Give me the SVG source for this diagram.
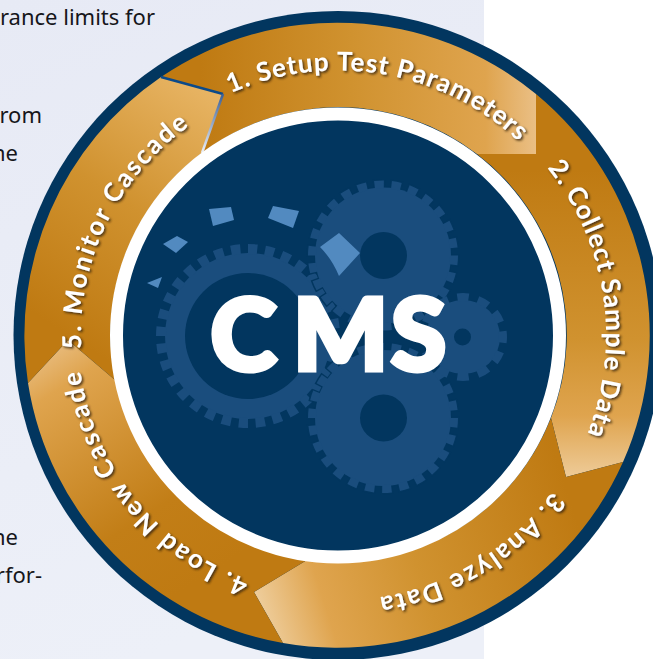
<svg xmlns="http://www.w3.org/2000/svg" width="653" height="659" viewBox="0 0 653 659">
<style>
.body{font-family:"Noto Sans","Open Sans",sans-serif;font-size:22px;fill:#16161a;text-anchor:end}
.lbl{font-family:"Lato","Open Sans",sans-serif;font-weight:700;font-size:26px;fill:#fff;filter:url(#sh)}
.cms{font-family:"Lato","Inter",sans-serif;font-weight:900;font-size:100px;fill:#fff;stroke:#fff;stroke-width:5;stroke-linejoin:miter}
.g{fill:#1a4d7d;stroke:none}
.t{fill:none;stroke:#1a4d7d}
.u{fill:none;stroke:#02365f}
.h{fill:#02365f}
.f{fill:#528ac0}
</style>
<defs>
<filter id="sh" x="-10%" y="-10%" width="120%" height="120%"><feDropShadow dx="1.6" dy="1.6" stdDeviation="1" flood-color="#2e1e08" flood-opacity=".85"/></filter>
<linearGradient id="bg" x1="0" y1="0" x2="0.3" y2="1"><stop offset="0" stop-color="#e7eaf5"/><stop offset="1" stop-color="#edf0f8"/></linearGradient>
<linearGradient id="s1" gradientUnits="userSpaceOnUse" x1="200" y1="0" x2="536" y2="0"><stop offset="0" stop-color="#bf7a12"/><stop offset=".45" stop-color="#d0922f"/><stop offset=".85" stop-color="#dfa44e"/><stop offset="1" stop-color="#eabf85"/></linearGradient>
<linearGradient id="s2" gradientUnits="userSpaceOnUse" x1="0" y1="170" x2="0" y2="477"><stop offset="0" stop-color="#bf7a12"/><stop offset=".55" stop-color="#d0922f"/><stop offset=".8" stop-color="#dfa44e"/><stop offset="1" stop-color="#eecb98"/></linearGradient>
<linearGradient id="s3" gradientUnits="userSpaceOnUse" x1="570" y1="500" x2="254" y2="600"><stop offset="0" stop-color="#bf7a12"/><stop offset=".5" stop-color="#d0922f"/><stop offset=".8" stop-color="#dfa44e"/><stop offset="1" stop-color="#efcf9f"/></linearGradient>
<linearGradient id="s4" gradientUnits="userSpaceOnUse" x1="200" y1="580" x2="50" y2="345"><stop offset="0" stop-color="#bf7a12"/><stop offset=".3" stop-color="#c27e17"/><stop offset=".85" stop-color="#dfa44e"/><stop offset="1" stop-color="#e9bd80"/></linearGradient>
<linearGradient id="s5" gradientUnits="userSpaceOnUse" x1="60" y1="330" x2="215" y2="90"><stop offset="0" stop-color="#bf7a12"/><stop offset=".5" stop-color="#d0922f"/><stop offset="1" stop-color="#e8b565"/></linearGradient>
<linearGradient id="edge" gradientUnits="userSpaceOnUse" x1="223" y1="94" x2="202" y2="153"><stop offset="0" stop-color="#3a5f95"/><stop offset="1" stop-color="#eef1f8"/></linearGradient>
<path id="p1" d="M226,95.3A265,265 0 0 1 567.5,203"/>
<path id="p2" d="M543.3,163.2A268,268 0 0 1 557.5,489.2"/>
<path id="p3" d="M552.4,491.3A265,265 0 0 1 314.9,599.5"/>
<path id="p4" d="M249.1,579.8A260,260 0 0 1 79,312.8"/>
<path id="p5" d="M81.4,348.9A257,257 0 0 1 250.1,94"/>
</defs>
<rect id="page" x="0" y="0" width="484" height="659" fill="url(#bg)"/>
<g id="body-text">
<text class="body" x="155" y="25">rance limits for</text>
<text class="body" x="42" y="123">rom</text>
<text class="body" x="18" y="161">ne</text>
<text class="body" x="18" y="545">ne</text>
<text class="body" x="42" y="583">rfor-</text>
</g>
<circle id="rim" cx="338" cy="335.5" r="324.5" fill="#02365f"/>
<g id="step2"><path fill="url(#s2)" d="M536,94A313,313 0 0 1 623,462L566,477L551,418A227,227 0 0 0 477,154L536,154Z"/><text class="lbl" letter-spacing="1"><textPath href="#p2" startOffset="6">2. Collect Sample Data</textPath></text></g>
<g id="step3"><path fill="url(#s3)" d="M623,462A313,313 0 0 1 283,643L254,592L307,560A227,227 0 0 0 551,418L566,477Z"/><text class="lbl" letter-spacing="2"><textPath href="#p3">3. Analyze Data</textPath></text></g>
<g id="step4"><path fill="url(#s4)" d="M283,643A313,313 0 0 1 28,383L68,340L115,380A227,227 0 0 0 307,560L254,592Z"/><text class="lbl" letter-spacing="2"><textPath href="#p4">4. Load New Cascade</textPath></text></g>
<g id="step5"><path fill="url(#s5)" d="M28,383A313,313 0 0 1 161,77L223,94L202,153A227,227 0 0 0 115,380L68,340Z"/><text class="lbl" letter-spacing="2"><textPath href="#p5">5. Monitor Cascade</textPath></text></g>
<g id="step1"><path fill="url(#s1)" d="M161,77A313,313 0 0 1 536,94L536,154L477,154A227,227 0 0 0 202,153L223,94Z"/>
<path d="M161,77L223,94" fill="none" stroke="#0b4a8a" stroke-width="2.5"/><path d="M223,94L202,153" fill="none" stroke="url(#edge)" stroke-width="2.5"/>
<text class="lbl" letter-spacing="1"><textPath href="#p1" startOffset="5">1. Setup Test Parameters</textPath></text></g>
<g id="hub">
<circle cx="338" cy="335.5" r="221.500" fill="#02365f" stroke="#fff" stroke-width="13"/>
<g id="gear-left">
<circle class="g" cx="248" cy="336" r="83"/>
<circle class="t" cx="248" cy="336" r="87" stroke-width="10" pathLength="64" stroke-dasharray="1.1 .9"/>
<circle class="h" cx="248" cy="336" r="63"/>
</g>
<g id="gear-top">
<circle class="u" cx="383" cy="255.5" r="71" stroke-width="11" pathLength="52" stroke-dasharray="1.4 .6" stroke-dashoffset=".15"/>
<circle class="h" cx="383" cy="255.5" r="69"/>
<circle class="g" cx="383" cy="255.5" r="68"/>
<circle class="t" cx="383" cy="255.5" r="71" stroke-width="8" pathLength="52" stroke-dasharray="1.1 .9"/>
<circle class="h" cx="383.500" cy="255.500" r="23.500"/>
</g>
<g id="gear-bottom">
<circle class="u" cx="383" cy="418" r="71" stroke-width="11" pathLength="52" stroke-dasharray="1.4 .6" stroke-dashoffset=".15"/>
<circle class="h" cx="383" cy="418" r="69"/>
<circle class="g" cx="383" cy="418" r="68"/>
<circle class="t" cx="383" cy="418" r="71" stroke-width="8" pathLength="52" stroke-dasharray="1.1 .9"/>
<circle class="h" cx="383.500" cy="418" r="23.500"/>
</g>
<g id="gear-small">
<circle class="g" cx="463" cy="337" r="37"/>
<circle class="t" cx="463" cy="337" r="40" stroke-width="8" pathLength="24" stroke-dasharray="1.1 .9" stroke-dashoffset=".55"/>
<circle class="h" cx="462.500" cy="337" r="8.500"/>
</g>
<g id="fragments">
<path class="f" d="M209,209L231,207L234,220L213,226Z"/>
<path class="f" d="M273,206L299,211L293,228L268,218Z"/>
<path class="f" d="M163,244L177,236L188,242L176,253Z"/>
<path class="f" d="M147,283L162,277L158,288Z"/>
<path class="f" d="M320,247L339,233L360,253L339,276Q332,259 320,247Z"/>
</g>
<text id="cms" class="cms" y="370"><tspan x="210.500">C</tspan><tspan x="293">M</tspan><tspan x="391">S</tspan></text>
</g>
</svg>
